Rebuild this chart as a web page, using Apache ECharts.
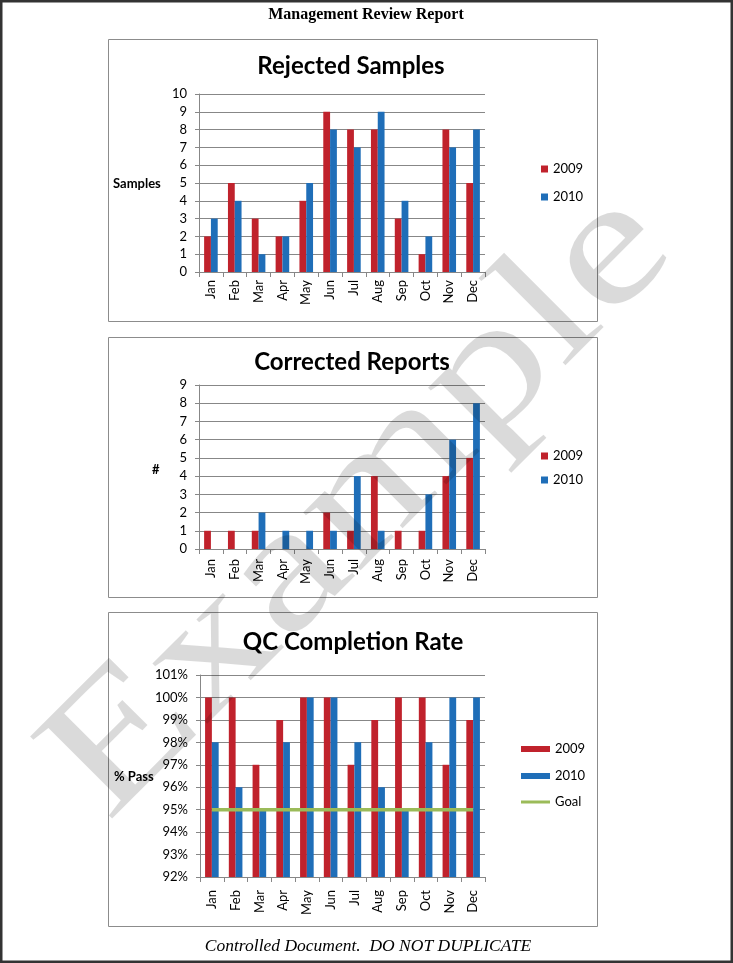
<!DOCTYPE html>
<html>
<head>
<meta charset="utf-8">
<script src="https://cdn.jsdelivr.net/npm/echarts@6/dist/echarts.min.js"></script>
<style>
html,body{margin:0;padding:0;background:#fff;}
#c{width:733px;height:963px;}
</style>
</head>
<body>
<div id="c"></div>
<script>
const months = ['Jan','Feb','Mar','Apr','May','Jun','Jul','Aug','Sep','Oct','Nov','Dec'];
const rejected2009 = [2,5,3,2,4,9,8,8,3,1,8,5];
const rejected2010 = [3,4,1,2,5,8,7,9,4,2,7,8];
const corrected2009 = [1,1,1,0,0,2,1,4,1,1,4,5];
const corrected2010 = [0,0,2,1,1,1,4,1,0,3,6,8];
const qc2009 = [100,100,97,99,100,100,97,99,100,100,97,99];
const qc2010 = [98,96,95,98,100,100,98,96,95,98,100,100];
const qcGoal = [95,95,95,95,95,95,95,95,95,95,95,95];

const RED = '#C0222C', BLUE = '#1F6EB8', GREEN = '#9BBB59';
const GRID = '#878787';
const FONT = 'Lato';

function xAxis(gi, margin){
  return {type:'category', gridIndex:gi, data:months, boundaryGap:true,
    axisLine:{lineStyle:{color:GRID,width:1}},
    axisTick:{show:true, alignWithLabel:false, length:5, lineStyle:{color:GRID}},
    axisLabel:{rotate:90, margin:margin, color:'#000', fontFamily:FONT, fontSize:13, interval:0}};
}
function yAxis(gi, min, max, fmt){
  return {type:'value', gridIndex:gi, min:min, max:max, interval:1,
    axisLine:{show:true, lineStyle:{color:GRID,width:1}},
    axisTick:{show:true, length:4, lineStyle:{color:GRID}},
    splitLine:{show:true, lineStyle:{color:GRID,width:1}},
    axisLabel:{margin:12, color:'#000', fontFamily:FONT, fontSize:13, formatter:fmt}};
}
function bar(name, gi, data, color){
  return {type:'bar', name:name, xAxisIndex:gi, yAxisIndex:gi, data:data,
    barWidth:6.8, barGap:'0%', itemStyle:{color:color}, animation:false};
}
function legendCfg(top, left, data, w, h, gap){
  return {orient:'vertical', left:left, top:top, padding:0, icon:'rect',
    itemWidth:w, itemHeight:h, itemGap:gap, data:data, selectedMode:false,
    textStyle:{fontFamily:FONT, fontSize:13, color:'#000', lineHeight:14}};
}
function txt(x, y, s, font, align, extra){
  return Object.assign({type:'text', x:x, y:y, silent:true, z:50,
    style:{text:s, font:font, fill:'#000', align:align||'left', textAlign:align||'left',
      verticalAlign:'middle', textVerticalAlign:'middle'}}, extra||{});
}
function box(x1, y1, x2, y2){
  return {type:'rect', silent:true, z:1, shape:{x:x1+0.5, y:y1+0.5, width:x2-x1, height:y2-y1},
    style:{fill:'none', stroke:'#8c8c8c', lineWidth:1}};
}

const option = {
  animation:false,
  backgroundColor:'#fff',
  grid:[
    {left:199, top:94, width:286, height:178},
    {left:199, top:385, width:286, height:164},
    {left:200, top:675, width:285, height:202}
  ],
  xAxis:[xAxis(0,8), xAxis(1,10), xAxis(2,13)],
  yAxis:[yAxis(0,0,10,'{value}'), yAxis(1,0,9,'{value}'), yAxis(2,92,101,'{value}%')],
  legend:[
    legendCfg(162, 541, ['2009','2010'], 7, 7, 14),
    legendCfg(449, 541, ['2009','2010'], 7, 7, 10),
    legendCfg(742, 521, ['2009','2010'], 29, 6, 13),
    legendCfg(795, 521, ['Goal'], 29, 3, 10)
  ],
  series:[
    bar('2009',0,rejected2009,RED), bar('2010',0,rejected2010,BLUE),
    bar('2009',1,corrected2009,RED), bar('2010',1,corrected2010,BLUE),
    bar('2009',2,qc2009,RED), bar('2010',2,qc2010,BLUE),
    {type:'line', name:'Goal', xAxisIndex:2, yAxisIndex:2, data:qcGoal, symbol:'none', showSymbol:false,
      lineStyle:{color:GREEN, width:3.5}, itemStyle:{color:GREEN}, z:5, animation:false}
  ],
  graphic:[
    {type:'rect', silent:true, z:1, shape:{x:1.25, y:1.25, width:730.5, height:960.5},
      style:{fill:'none', stroke:'#333', lineWidth:2.5}},
    box(108,39,597,321), box(108,337,597,597), box(108,612,597,926),
    txt(366,15,'Management Review Report','bold 16px "Liberation Serif"','center'),
    txt(368,946,'Controlled Document.  DO NOT DUPLICATE','italic 17.5px "Liberation Serif"','center'),
    txt(351,66,'Rejected Samples','bold 24px Lato','center'),
    txt(352,362,'Corrected Reports','bold 24px Lato','center'),
    txt(353,642,'QC Completion Rate','bold 24px Lato','center'),
    txt(113,184,'Samples','bold 13px Lato','left'),
    txt(152,470,'#','bold 13px Lato','left'),
    txt(114,777,'% Pass','bold 13px Lato','left'),
    {type:'text', x:360, y:505, rotation:Math.PI/4, scaleX:1.32, scaleY:1.03, silent:true, z:100,
      style:{text:'Example', font:'172px "Liberation Serif"', fill:'rgba(0,0,0,0.145)',
        align:'center', textAlign:'center', verticalAlign:'middle', textVerticalAlign:'middle'}}
  ]
};
const chart = echarts.init(document.getElementById('c'), null, {renderer:'canvas'});
chart.setOption(option);
</script>
</body>
</html>
